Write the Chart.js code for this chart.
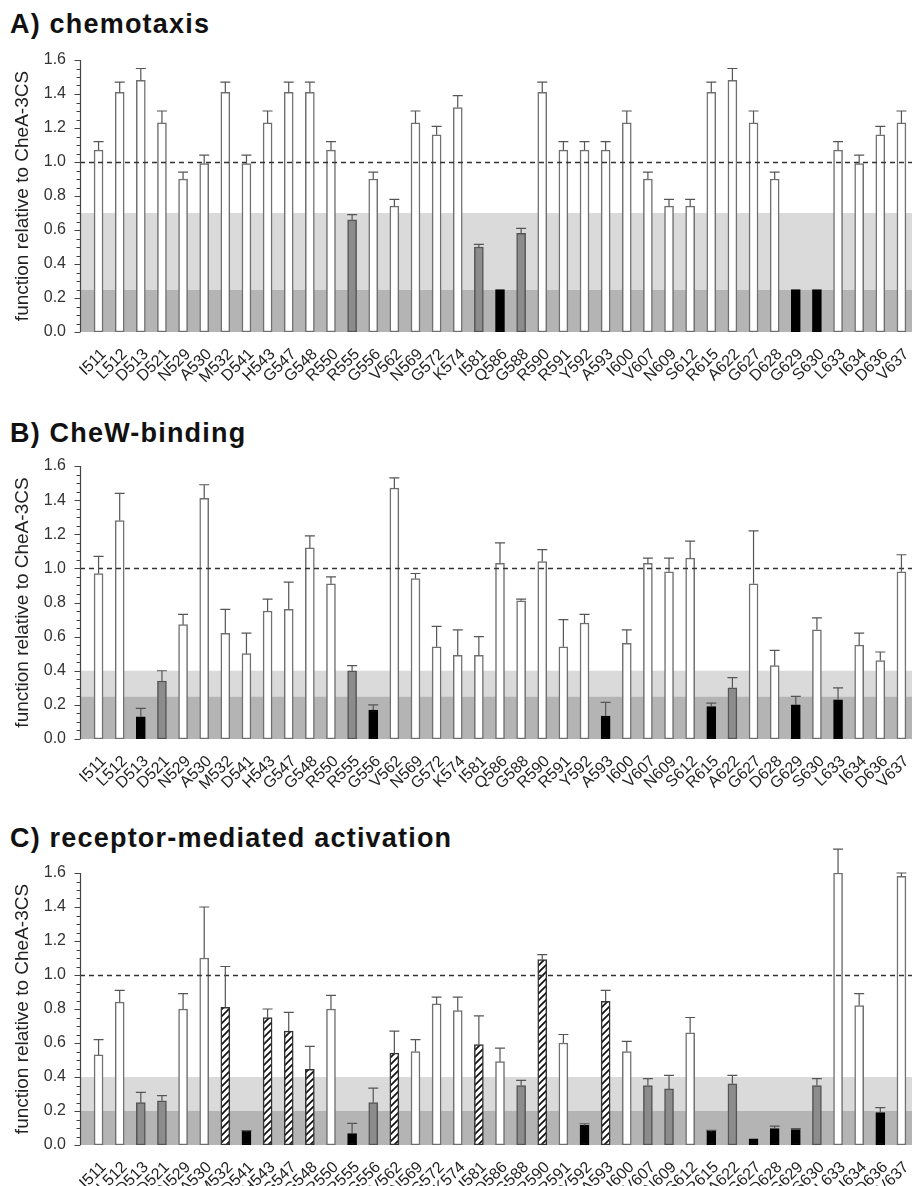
<!DOCTYPE html>
<html>
<head>
<meta charset="utf-8">
<script src="https://cdn.jsdelivr.net/npm/chart.js@4.4.1/dist/chart.umd.min.js"></script>
<style>
  body { margin: 0; background: #fff; width: 913px; height: 1186px; position: relative; overflow: hidden;
         font-family: "Liberation Sans", Arial, sans-serif; }
  .ttl { position: absolute; left: 10px; font-weight: bold; font-size: 27px; line-height: 27px;
         letter-spacing: 1.2px; color: #111; white-space: nowrap; }
  canvas { position: absolute; left: 0; }
</style>
</head>
<body>
<div class="ttl" style="top:11px">A) chemotaxis</div>
<div class="ttl" style="top:420px">B) CheW-binding</div>
<div class="ttl" style="top:825px">C) receptor-mediated activation</div>
<canvas id="chemo" width="913" height="392" style="top:0px"></canvas>
<canvas id="chew" width="913" height="392" style="top:400px"></canvas>
<canvas id="activ" width="913" height="396" style="top:790px"></canvas>
<script>
const mutants = ["I511", "L512", "D513", "D521", "N529", "A530", "M532", "D541", "H543", "G547",
  "G548", "R550", "R555", "G556", "V562", "N569", "G572", "K574", "I581", "Q586",
  "G588", "R590", "R591", "Y592", "A593", "I600", "V607", "N609", "S612", "R615",
  "A622", "G627", "D628", "G629", "S630", "L633", "I634", "D636", "V637"];

// A) chemotaxis
const chemoValues = [1.07, 1.41, 1.48, 1.23, 0.90, 0.99, 1.41, 0.99, 1.23, 1.41,
  1.41, 1.07, 0.66, 0.90, 0.74, 1.23, 1.16, 1.32, 0.50, 0.25,
  0.58, 1.41, 1.07, 1.07, 1.07, 1.23, 0.90, 0.74, 0.74, 1.41,
  1.48, 1.23, 0.90, 0.25, 0.25, 1.07, 0.99, 1.16, 1.23];
const chemoErrors = [0.05, 0.06, 0.07, 0.07, 0.04, 0.05, 0.06, 0.05, 0.07, 0.06,
  0.06, 0.05, 0.03, 0.04, 0.04, 0.07, 0.05, 0.07, 0.015, 0,
  0.03, 0.06, 0.05, 0.05, 0.05, 0.07, 0.04, 0.04, 0.04, 0.06,
  0.07, 0.07, 0.04, 0, 0, 0.05, 0.05, 0.05, 0.07];
// 0 = normal, 1 = reduced, 2 = defective, 3 = hatched class
const chemoClass = [0, 0, 0, 0, 0, 0, 0, 0, 0, 0,
  0, 0, 1, 0, 0, 0, 0, 0, 1, 2,
  1, 0, 0, 0, 0, 0, 0, 0, 0, 0,
  0, 0, 0, 2, 2, 0, 0, 0, 0];
const chemoBands = [0.25, 0.7];

// B) CheW-binding
const chewValues = [0.97, 1.28, 0.13, 0.34, 0.67, 1.41, 0.62, 0.50, 0.75, 0.76,
  1.12, 0.91, 0.40, 0.17, 1.47, 0.94, 0.54, 0.49, 0.49, 1.03,
  0.81, 1.04, 0.54, 0.68, 0.135, 0.56, 1.03, 0.98, 1.06, 0.19,
  0.30, 0.91, 0.43, 0.20, 0.64, 0.23, 0.55, 0.46, 0.98];
const chewErrors = [0.10, 0.16, 0.05, 0.06, 0.06, 0.08, 0.14, 0.12, 0.07, 0.16,
  0.07, 0.04, 0.03, 0.03, 0.06, 0.03, 0.12, 0.15, 0.11, 0.12,
  0.01, 0.07, 0.16, 0.05, 0.08, 0.08, 0.03, 0.08, 0.10, 0.02,
  0.06, 0.31, 0.09, 0.05, 0.07, 0.07, 0.07, 0.05, 0.10];
const chewClass = [0, 0, 2, 1, 0, 0, 0, 0, 0, 0,
  0, 0, 1, 2, 0, 0, 0, 0, 0, 0,
  0, 0, 0, 0, 2, 0, 0, 0, 0, 2,
  1, 0, 0, 2, 0, 2, 0, 0, 0];
const chewBands = [0.25, 0.4];

// C) receptor-mediated activation
const activValues = [0.53, 0.84, 0.25, 0.26, 0.80, 1.10, 0.81, 0.08, 0.75, 0.67,
  0.445, 0.80, 0.067, 0.25, 0.54, 0.55, 0.83, 0.79, 0.59, 0.49,
  0.35, 1.09, 0.60, 0.115, 0.845, 0.55, 0.35, 0.33, 0.66, 0.08,
  0.36, 0.037, 0.096, 0.09, 0.35, 1.60, 0.82, 0.19, 1.58];
const activErrors = [0.09, 0.07, 0.06, 0.03, 0.09, 0.30, 0.24, 0.005, 0.05, 0.11,
  0.135, 0.08, 0.06, 0.085, 0.13, 0.07, 0.04, 0.08, 0.17, 0.08,
  0.03, 0.03, 0.05, 0.01, 0.065, 0.06, 0.04, 0.08, 0.09, 0.006,
  0.05, 0, 0.015, 0.006, 0.04, 0.14, 0.07, 0.03, 0.02];
const activClass = [0, 0, 1, 1, 0, 0, 3, 2, 3, 3,
  3, 0, 2, 1, 3, 0, 0, 0, 3, 0,
  1, 3, 0, 2, 3, 0, 1, 1, 0, 2,
  1, 2, 2, 2, 1, 0, 0, 2, 0];
const activBands = [0.2, 0.4];

const yTicks = [0.0, 0.2, 0.4, 0.6, 0.8, 1.0, 1.2, 1.4, 1.6];
const referenceLevel = 1.0;

function hatch() {
  const c = document.createElement('canvas');
  c.width = 7; c.height = 7;
  const g = c.getContext('2d');
  g.fillStyle = '#fff';
  g.fillRect(0, 0, 7, 7);
  g.strokeStyle = '#111';
  g.lineWidth = 1.7;
  g.beginPath();
  g.moveTo(-1, 8); g.lineTo(8, -1);
  g.moveTo(-1, 1); g.lineTo(1, -1);
  g.moveTo(6, 8); g.lineTo(8, 6);
  g.stroke();
  return g.createPattern(c, 'repeat');
}
const hatchFill = hatch();
const fills = ['#ffffff', '#8c8c8c', '#000000', hatchFill];
const edges = ['#707070', '#555555', '#000000', '#333333'];
const font = '"Liberation Sans", Arial, sans-serif';

const panelDecor = {
  id: 'panelDecor',
  beforeDatasetsDraw(chart, args, o) {
    const { ctx, chartArea: a, scales: { y } } = chart;
    const ax = a.left - 8;
    ctx.save();
    ctx.fillStyle = '#b4b4b4';
    ctx.fillRect(ax, y.getPixelForValue(o.bands[0]), a.right - ax, y.getPixelForValue(0) - y.getPixelForValue(o.bands[0]));
    ctx.fillStyle = '#dadada';
    ctx.fillRect(ax, y.getPixelForValue(o.bands[1]), a.right - ax, y.getPixelForValue(o.bands[0]) - y.getPixelForValue(o.bands[1]));
    ctx.restore();
  },
  afterDatasetsDraw(chart, args, o) {
    const { ctx, chartArea: a, scales: { y } } = chart;
    const ax = a.left - 8;
    ctx.save();
    // dashed reference
    ctx.strokeStyle = '#333';
    ctx.lineWidth = 1.3;
    ctx.setLineDash([5, 4]);
    const yr = Math.round(y.getPixelForValue(referenceLevel)) + 0.5;
    ctx.beginPath();
    ctx.moveTo(ax, yr); ctx.lineTo(a.right, yr);
    ctx.stroke();
    ctx.setLineDash([]);
    // error bars
    const meta = chart.getDatasetMeta(0);
    const vals = chart.data.datasets[0].data;
    ctx.strokeStyle = '#555';
    ctx.lineWidth = 1.2;
    meta.data.forEach((bar, i) => {
      const e = o.errors[i];
      if (!e) return;
      const yt = y.getPixelForValue(vals[i] + e);
      ctx.beginPath();
      ctx.moveTo(bar.x, bar.y); ctx.lineTo(bar.x, yt);
      ctx.moveTo(bar.x - 5, yt); ctx.lineTo(bar.x + 5, yt);
      ctx.stroke();
    });
    // y axis line with major and minor ticks
    ctx.strokeStyle = '#444';
    ctx.lineWidth = 1.2;
    ctx.beginPath();
    ctx.moveTo(ax + 0.5, y.getPixelForValue(0)); ctx.lineTo(ax + 0.5, y.getPixelForValue(1.6));
    for (let k = 0; k <= 32; k++) {
      const yy = Math.round(y.getPixelForValue(k * 0.05)) + 0.5;
      const len = k % 4 === 0 ? 6 : 4;
      ctx.moveTo(ax + 0.5, yy); ctx.lineTo(ax + 0.5 - len, yy);
    }
    ctx.stroke();
    ctx.restore();
  }
};

function makePanel(id, values, errors, classes, bands, plotTop, xHeight) {
  new Chart(document.getElementById(id), {
    type: 'bar',
    data: {
      labels: mutants,
      datasets: [{
        data: values,
        backgroundColor: classes.map(c => fills[c]),
        borderColor: classes.map(c => edges[c]),
        borderWidth: 1.5,
        borderSkipped: false,
        barThickness: 9
      }]
    },
    options: {
      responsive: false,
      animation: false,
      layout: { padding: { top: plotTop, right: 1, left: 0, bottom: 0 } },
      plugins: {
        legend: { display: false },
        tooltip: { enabled: false },
        panelDecor: { errors: errors, bands: bands }
      },
      scales: {
        x: {
          grid: { display: false },
          border: { display: false },
          afterFit: s => { s.height = xHeight; s.paddingLeft = 0; s.paddingRight = 0; },
          ticks: {
            autoSkip: false, minRotation: 45, maxRotation: 45, padding: 5, labelOffset: 5,
            color: '#222', font: { family: font, size: 16 }
          }
        },
        y: {
          min: 0, max: 1.6,
          afterFit: s => { s.width = 88; },
          afterBuildTicks: s => { s.ticks = yTicks.map(v => ({ value: v })); },
          grid: { display: false },
          border: { display: false },
          ticks: {
            padding: 14, color: '#333',
            font: { family: font, size: 16 },
            callback: v => v.toFixed(1)
          },
          title: {
            display: true, text: 'function relative to CheA-3CS', color: '#222',
            font: { family: font, size: 19 },
            padding: { top: 11, bottom: 0 }
          }
        }
      }
    },
    plugins: [panelDecor]
  });
}

makePanel('chemo', chemoValues, chemoErrors, chemoClass, chemoBands, 60, 60);
makePanel('chew', chewValues, chewErrors, chewClass, chewBands, 66, 53);
makePanel('activ', activValues, activErrors, activClass, activBands, 83, 41);
</script>
</body>
</html>
